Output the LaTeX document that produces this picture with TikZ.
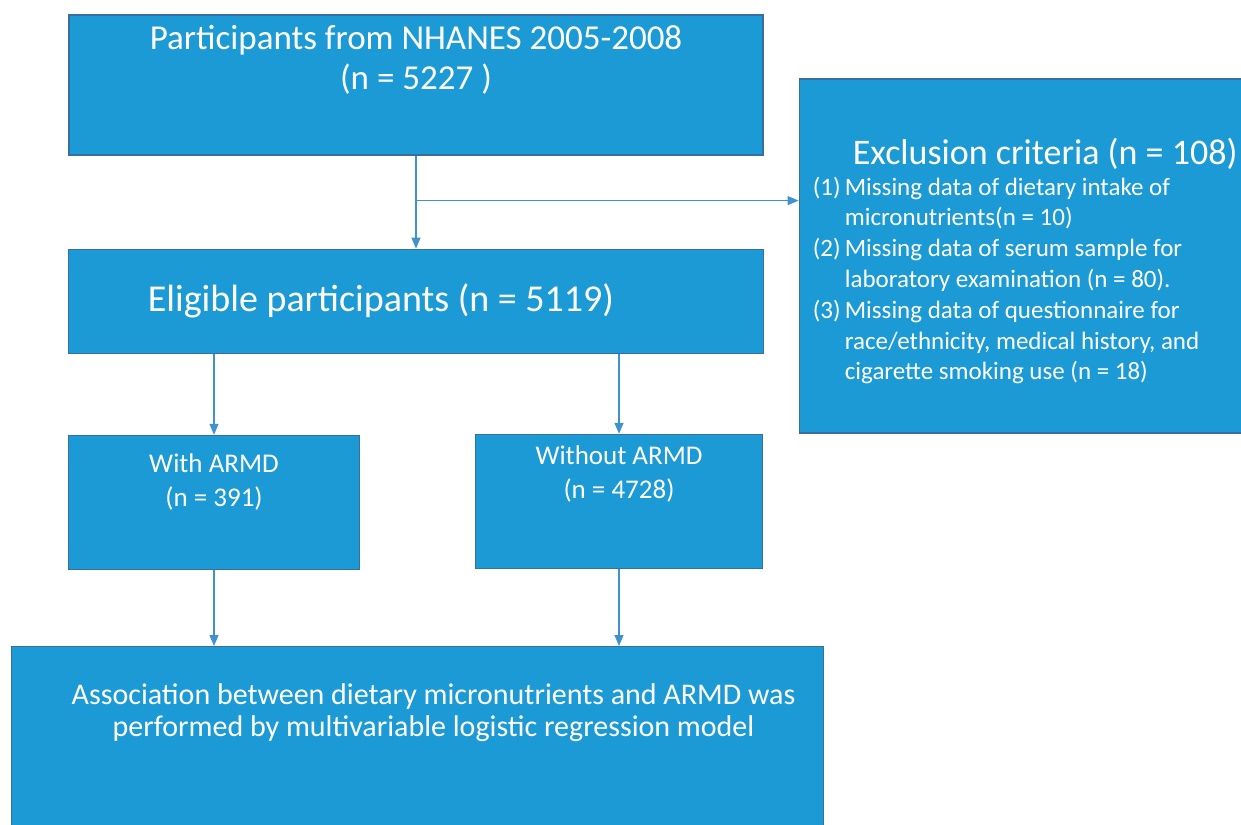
\documentclass[tikz,border=0pt]{standalone}
\usepackage{fontspec}
\setmainfont{Carlito}
\usetikzlibrary{arrows.meta,positioning}
\definecolor{boxblue}{RGB}{28,154,214}
\definecolor{boxline}{RGB}{55,112,158}
\definecolor{arrowblue}{RGB}{62,146,206}
\tikzstyle{block} = [rectangle, draw=boxline, line width=1.2pt, fill=boxblue, inner sep=0pt]
\tikzstyle{connector} = [draw=arrowblue, line width=1.3pt, -{Triangle[length=11pt,width=9pt]}]

\begin{document}
\begin{tikzpicture}[x=1pt, y=-1pt, every label/.style={text=white, align=center}]
        \useasboundingbox (0,0) rectangle (1241,824);
        \node (participants) [block, minimum width=694pt, minimum height=140pt, label={[yshift=25pt, font=\fontsize{35}{40}\selectfont]center:{Participants from NHANES 2005-2008\\(n = 5227 )}}] at (416,85) {};
        \node (eligible) [block, below=93pt of participants, minimum width=695pt, minimum height=104pt, label={[xshift=-35pt, font=\fontsize{38}{40}\selectfont]center:{Eligible participants (n = 5119)}}] {};
        \node (exclusion) [block, right=35pt of participants, yshift=-171pt, minimum width=452pt, minimum height=354pt, label={[align=left, xshift=0pt, yshift=-5pt, font=\fontsize{25}{30.8}\selectfont]center:{\hspace*{40pt}{\fontsize{36}{40}\selectfont Exclusion criteria (n = 108)}\\
            \makebox[32pt][l]{(1)}Missing data of dietary intake of\\
            \hspace*{32pt}micronutrients(n = 10)\\
            \makebox[32pt][l]{(2)}Missing data of serum sample for\\
            \hspace*{32pt}laboratory examination (n = 80).\\
            \makebox[32pt][l]{(3)}Missing data of questionnaire for\\
            \hspace*{32pt}race/ethnicity, medical history, and\\
            \hspace*{32pt}cigarette smoking use (n = 18)}}] {};
        \node (with) [block, below=81pt of eligible, xshift=-202pt, minimum width=291pt, minimum height=134pt, label={[yshift=20pt, font=\fontsize{27}{34}\selectfont]center:{With ARMD\\(n = 391)}}] {};
        \node (without) [block, below=80pt of eligible, xshift=203pt, minimum width=287pt, minimum height=134pt, label={[yshift=27pt, font=\fontsize{27}{34}\selectfont]center:{Without ARMD\\(n = 4728)}}] {};
        \node (association) [block, below=76pt of with, xshift=203.5pt, minimum width=812pt, minimum height=187pt, label={[xshift=16pt, yshift=27pt, font=\fontsize{30}{32}\selectfont]center:{Association between dietary micronutrients and ARMD was\\performed by multivariable logistic regression model}}] {};
        \coordinate (split) at ([yshift=-45pt]participants.south);
        \draw [connector] (participants.south) -- (participants.south |- eligible.north);
        \draw [connector] (split) -- (split -| exclusion.west);
        \draw [connector] (with.north |- eligible.south) -- (with);
        \draw [connector] (without.north |- eligible.south) -- (without);
        \draw [connector] (with) -- (with.south |- association.north);
        \draw [connector] (without) -- (without.south |- association.north);
    \end{tikzpicture}
\end{document}
